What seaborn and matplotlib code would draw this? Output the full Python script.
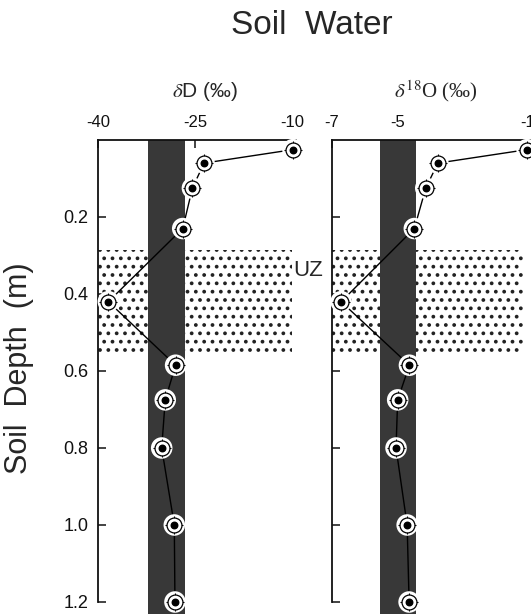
import matplotlib
matplotlib.use("Agg")
import matplotlib.pyplot as plt
import matplotlib.transforms as mtransforms
import numpy as np
import pandas as pd
import seaborn as sns

# soil water profile
DEPTH_M = [0.025, 0.06, 0.125, 0.23, 0.42, 0.585, 0.675, 0.80, 1.00, 1.20]
DELTA_D = [-9.85, -23.6, -25.4, -26.9, -38.4, -28.0, -29.6, -30.15, -28.2, -28.1]
DELTA_18O = [-1.03, -3.76, -4.13, -4.48, -6.72, -4.63, -4.99, -5.04, -4.70, -4.64]

# groundwater range (dark band) and unsaturated zone (stippled)
BAND_D = (-32.2, -26.6)
BAND_18O = (-5.53, -4.43)
UZ_DEPTH = (0.285, 0.555)

D_TICKS = [-40, -25, -10]
O_TICKS = [-7, -5, -1]
DEPTH_TICKS = [0.2, 0.4, 0.6, 0.8, 1.0, 1.2]

W, H = 531, 615


def setup_style() -> None:
    sns.set_theme(style="ticks")
    plt.rcParams.update(
        {
            "font.family": ["Liberation Sans", "DejaVu Sans"],
            "mathtext.fontset": "stix",
            "hatch.linewidth": 1.5,
            "hatch.color": "#222222",
            "axes.linewidth": 1.3,
            "axes.edgecolor": "#111111",
            "xtick.color": "#111111",
            "ytick.color": "#111111",
        }
    )


def draw_panel(ax, df, col, band, xlim, ticks, label, label_font, stipple_right):
    ax.set_xlim(*xlim)
    ax.set_ylim(1.2312, 0)

    ax.axhspan(*UZ_DEPTH, xmin=0, xmax=stipple_right, facecolor="white",
               edgecolor="#222222", hatch="..", linewidth=0, zorder=0)
    ax.axvspan(*band, facecolor="#383838", edgecolor="none", zorder=1)

    sns.lineplot(data=df, x=col, y="depth", sort=False, estimator=None,
                 color="black", linewidth=1.0, ax=ax, zorder=3)
    # target-style markers: halo, crosshair, ring, dot
    sns.scatterplot(data=df, x=col, y="depth", s=240, color="white",
                    edgecolor="none", ax=ax, zorder=4, clip_on=False)
    ax.scatter(df[col], df["depth"], s=180, marker="+", color="black",
               linewidths=0.8, zorder=5, clip_on=False)
    ax.scatter(df[col], df["depth"], s=115, facecolor="white",
               edgecolor="black", linewidths=0.9, zorder=6, clip_on=False)
    ax.scatter(df[col], df["depth"], s=22, color="black", zorder=7, clip_on=False)

    for side in ("right", "bottom"):
        ax.spines[side].set_visible(False)
    ax.spines["left"].set_bounds(0, 1.2)

    ax.xaxis.set_label_position("top")
    ax.xaxis.tick_top()
    ax.set_xticks(ticks)
    ax.set_xticklabels([str(t) for t in ticks])
    ax.set_yticks(DEPTH_TICKS)
    ax.tick_params(axis="x", direction="in", length=6, width=1.1, pad=7, labelsize=12)
    ax.tick_params(axis="y", direction="in", length=6, width=1.1, pad=7, labelsize=13)
    ax.set_xlabel(label, fontsize=15, labelpad=13, **label_font)
    ax.set_ylabel("")


def main() -> None:
    setup_style()
    df = pd.DataFrame({"depth": DEPTH_M, "dD": DELTA_D, "d18O": DELTA_18O})

    fig = plt.figure(figsize=(W / 100, H / 100), dpi=100)
    ax1 = fig.add_axes([98 / W, 1 - 614 / H, 198 / W, 474 / H])
    ax2 = fig.add_axes([332 / W, 1 - 614 / H, 208 / W, 474 / H])

    draw_panel(ax1, df, "dD", BAND_D, (-40, -9.38), D_TICKS,
               r"$\delta$D (‰)", {}, 0.98)
    draw_panel(ax2, df, "d18O", BAND_18O, (-7, -0.633), O_TICKS,
               r"$\delta^{18}$O (‰)", {"family": ["Liberation Serif", "DejaVu Serif"]}, 0.918)
    ax1.xaxis.label.set_x(0.54)
    ax1.set_yticklabels([f"{t:.1f}" for t in DEPTH_TICKS])
    ax2.set_yticklabels([])

    trans = mtransforms.blended_transform_factory(ax2.transAxes, ax2.transData)
    ax2.text(-0.045, 0.338, "UZ", transform=trans, ha="right", va="center", fontsize=16)

    fig.text(312 / W, 1 - 25 / H, "Soil  Water", ha="center", va="center", fontsize=24)
    fig.text(19 / W, 1 - 368 / H, "Soil  Depth  (m)", ha="center", va="center",
             rotation=90, fontsize=22)

    fig.savefig("out.png", dpi=100)
    plt.close(fig)


if __name__ == "__main__":
    main()
